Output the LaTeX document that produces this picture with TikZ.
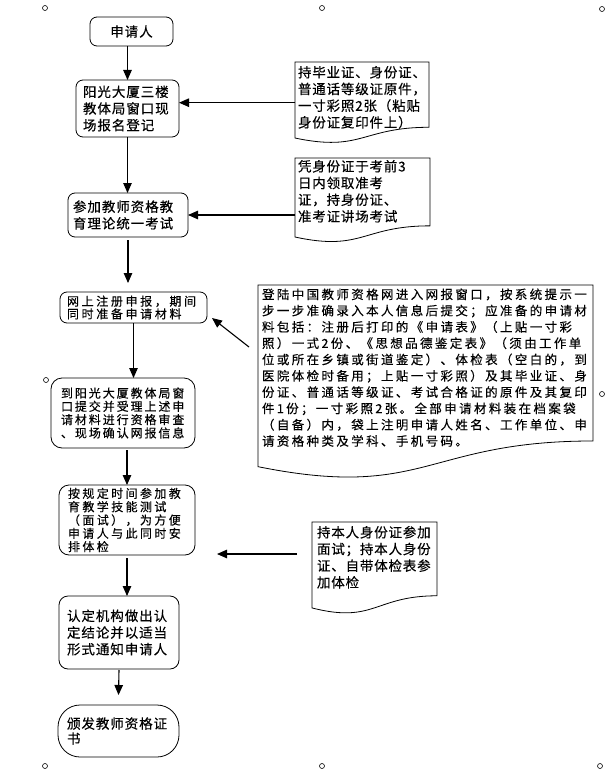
\documentclass[tikz,border=0pt]{standalone}
\usepackage{fontspec}
\setmainfont{Noto Sans CJK SC}[FakeBold=0.3]
\usetikzlibrary{arrows.meta,calc}
\newcommand\tf[3]{\fontsize{#1pt}{#3pt}\selectfont\addfontfeature{LetterSpace=#2}}
\newcommand\docbox[5]{\parbox[c][#2pt][t]{#1pt}{\vspace*{#4pt}\hspace*{#3pt}\parbox[t]{\dimexpr#1pt-#3pt\relax}{\raggedright #5}}}
\newcommand\docline[1]{\draw[ln] (#1.north west) -- (#1.north east) -- ($(#1.north east)!0.802!(#1.south east)$) .. controls ($(#1.north)!0.802!(#1.south)$) and ($(#1.north)!1.1075!(#1.south)$) .. ($(#1.north west)!0.934!(#1.south west)$) -- cycle;}
\begin{document}
\begin{tikzpicture}[x=1pt,y=-1pt,
  ln/.style={line width=0.8pt, draw=black},
  box/.style={draw, line width=0.8pt, rounded corners=7pt, inner ysep=0pt, outer sep=0pt, align=left},
  big/.style={font=\tf{13.5}{7}{16.7}},
  doc/.style={inner sep=0pt, outer sep=0pt, anchor=north west, font=\tf{13.5}{6}{16.7}},
  arr/.style={line width=1.1pt, -{Triangle[length=10pt,width=8.5pt]}},
  handle/.style={draw, circle, inner sep=0pt, minimum size=5pt, line width=0.6pt}]
\fill[white] (0,0) rectangle (610,770);
\useasboundingbox (0,0) rectangle (610,770);

% handles
\node[handle] (h1) at (45,8) {};
\node[handle] (h2) at (322,8) {};
\node[handle] (h3) at (602,9) {};
\node[handle] (h4) at (46,380) {};
\node[handle] (h5) at (602,394) {};
\node[handle] (h6) at (45,766) {};
\node[handle] (h7) at (322,766) {};
\node[handle] (h8) at (600,766) {};

% main boxes
\node[box, big, align=center, minimum width=83pt, minimum height=29pt, inner xsep=7pt, text width=69pt] (n1) at (131.5,31.5) {申请人};
\node[box, big, minimum width=103pt, minimum height=57pt, inner xsep=7pt, text width=89pt] (n2) at (127.5,108.5) {阳光大厦三楼\\教体局窗口现\\场报名登记};
\node[box, big, minimum width=120pt, minimum height=44pt, inner xsep=5pt, text width=110pt] (n3) at (128,215) {参加教师资格教\\育理论统一考试};
\node[box, font=\tf{12}{22}{12.7}, minimum width=147pt, minimum height=31pt, inner xsep=7pt, text width=133pt] (n4) at (133.5,307.5) {网上注册申报，期间\\同时准备申请材料};
\node[box, rounded corners=11pt, font=\tf{12}{16}{13.3}, minimum width=144pt, minimum height=70pt, inner xsep=10pt, text width=124pt] (n5) at (123,413) {到阳光大厦教体局窗\\口提交并受理上述申\\请材料进行资格审查\\、现场确认网报信息};
\node[box, rounded corners=10pt, font=\tf{12}{20}{13.3}, minimum width=136pt, minimum height=70pt, inner xsep=9pt, text width=118pt] (n6) at (127,520) {按规定时间参加教\\育教学技能测试\\（面试），为方便\\申请人与此同时安\\排体检};
\node[box, rounded corners=9pt, big, minimum width=120pt, minimum height=73pt, inner xsep=8pt, text width=104pt] (n7) at (119,632.5) {认定机构做出认\\定结论并以适当\\形式通知申请人};
\node[box, rounded corners=22pt, font=\tf{13.5}{7}{15}, minimum width=121pt, minimum height=52pt, inner xsep=9pt, text width=103pt] (n8) at (118.5,731) {颁发教师资格证\\书};

% documents
\node[doc] (d1) at (295,62) {\docbox{134}{81.4}{3}{4}{持毕业证、身份证、\\普通话等级证原件，\\一寸彩照2张（粘贴\\身份证复印件上）}};
\docline{d1}
\node[doc] (d2) at (295,158) {\docbox{135}{84.6}{3}{2}{凭身份证于考前3\\日内领取准考\\证，持身份证、\\准考证讲场考试}};
\docline{d2}
\node[doc, font=\tf{12.5}{19}{16.3}] (d3) at (258,285) {\docbox{335}{194.5}{4}{3.5}{登陆中国教师资格网进入网报窗口，按系统提示一\\步一步准确录入本人信息后提交；应准备的申请材\\料包括：注册后打印的《申请表》（上贴一寸彩\\照）一式2份、《思想品德鉴定表》（须由工作单\\位或所在乡镇或街道鉴定）、体检表（空白的，到\\医院体检时备用；上贴一寸彩照）及其毕业证、身\\份证、普通话等级证、考试合格证的原件及其复印\\件1份；一寸彩照2张。全部申请材料装在档案袋\\（自备）内，袋上注明申请人姓名、工作单位、申\\请资格种类及学科、手机号码。}};
\docline{d3}
\node[doc] (d4) at (312,522) {\docbox{125}{92}{5}{4}{持本人身份证参加\\面试；持本人身份\\证、自带体检表参\\加体检}};
\docline{d4}

% flow arrows
\draw[arr] (n1.south -| n2.north) -- (n2.north);
\draw[arr] (n2.south) -- (n2.south |- n3.north);
\draw[arr] ([yshift=-3pt]n3.south) -- ([yshift=9pt]n3.south |- n4.north);
\draw[arr] (n4.south) -- (n4.south |- n5.north);
\draw[arr] ([yshift=-2pt]n6.north |- n5.south) -- (n6.north);
\draw[arr] ([yshift=-3pt]n6.south) -- (n6.south |- n7.north);
\draw[arr] ([yshift=-1pt]n7.south) -- ([yshift=10pt]n8.north);

% side arrows
\draw[arr] (d1.west) -- (d1.west -| n2.east);
\draw[arr] (d2.west |- n3.east) -- (n3.east);
\coordinate (c3a) at (249,347);
\coordinate (c3b) at (212,318);
\draw[arr] (c3a) -- (c3b);
\coordinate (c4a) at (297,554);
\coordinate (c4b) at (217,554);
\draw[arr] (c4a) -- (c4b);
\end{tikzpicture}
\end{document}
